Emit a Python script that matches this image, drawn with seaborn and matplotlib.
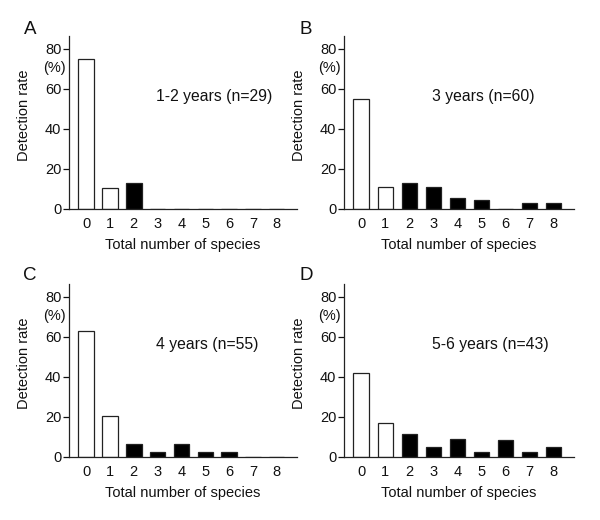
import matplotlib
matplotlib.use("Agg")
import matplotlib.pyplot as plt
import seaborn as sns
import pandas as pd

species = [0, 1, 2, 3, 4, 5, 6, 7, 8]
group = ["single", "single", "multi", "multi", "multi", "multi", "multi", "multi", "multi"]
rate_A = [75.0, 10.5, 13.0, 0, 0, 0, 0, 0, 0]
rate_B = [54.8, 10.8, 13.2, 10.8, 5.3, 4.3, 0, 2.8, 2.8]
rate_C = [62.8, 20.7, 6.5, 2.3, 6.5, 2.3, 2.3, 0, 0]
rate_D = [41.8, 17.2, 11.7, 4.8, 9.2, 2.3, 8.5, 2.3, 5.2]
panel_letters = ["A", "B", "C", "D"]
panel_texts = ["1-2 years (n=29)", "3 years (n=60)", "4 years (n=55)", "5-6 years (n=43)"]
yticks = [0, 20, 40, 60, 80]

sns.set_style("ticks")
plt.rcParams["font.family"] = ["Liberation Sans", "DejaVu Sans"]

fig = plt.figure(figsize=(6, 5.2), dpi=100)
W, H = 600, 520
# axes boxes in pixels: left, top, right, bottom
boxes = [(69, 36, 297, 209), (344, 36, 574, 209),
         (69, 284, 297, 457), (344, 284, 574, 457)]
letter_pos = [(30, 30), (306, 30), (30, 275), (306, 275)]
rates = [rate_A, rate_B, rate_C, rate_D]
axcol = "#222222"

for i in range(4):
    l, t, r, b = boxes[i]
    ax = fig.add_axes([l / W, 1 - b / H, (r - l) / W, (b - t) / H])
    df = pd.DataFrame({"species": [str(s) for s in species], "rate": rates[i], "group": group})
    sns.barplot(data=df, x="species", y="rate", hue="group",
                palette={"single": "white", "multi": "black"},
                order=[str(s) for s in species], dodge=False, width=0.65,
                edgecolor=axcol, linewidth=0.9, legend=False, ax=ax)
    ax.set_xlim(-0.72, 8.85)
    ax.set_ylim(0, 86.5)
    ax.set_yticks(yticks)
    sns.despine(ax=ax)
    for sp in ["left", "bottom"]:
        ax.spines[sp].set_color(axcol)
        ax.spines[sp].set_linewidth(0.9)
    ax.tick_params(axis="x", length=0, pad=6, labelsize=10.5, colors="#111111")
    ax.tick_params(axis="y", length=4, width=0.9, pad=1.5, labelsize=10.5, colors="#111111")
    ax.set_xlabel("Total number of species", fontsize=10.5, color="#111111", labelpad=5)
    ax.set_ylabel("Detection rate", fontsize=10.5, color="#111111")
    ax.yaxis.set_label_coords(-0.165, 0.54)
    ax.text(-0.065, 70.5, "(%)", transform=ax.get_yaxis_transform(), ha="center",
            va="center", fontsize=10.5, color="#111111")
    ax.text(2.95, 56, panel_texts[i], ha="left", va="center", fontsize=11.3, color="#111111")
    lx, ly = letter_pos[i]
    fig.text(lx / W, 1 - ly / H, panel_letters[i], ha="center", va="center", fontsize=13.5,
             color="#111111")

fig.savefig("out.png", dpi=100)
